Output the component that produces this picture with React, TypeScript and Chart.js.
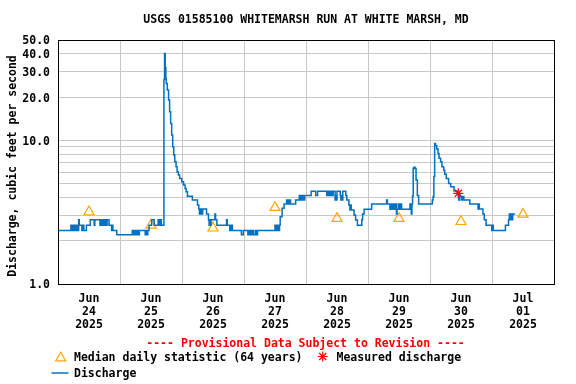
import React, { useEffect, useRef } from 'react';
import { Chart, registerables } from 'chart.js';

Chart.register(...registerables);

const TITLE = 'USGS 01585100 WHITEMARSH RUN AT WHITE MARSH, MD';
const Y_TITLE = 'Discharge, cubic feet per second';
const PROVISIONAL = '---- Provisional Data Subject to Revision ----';
const LEGEND_MEDIAN = 'Median daily statistic (64 years)';
const LEGEND_MEASURED = 'Measured discharge';
const LEGEND_DISCHARGE = 'Discharge';

// x axis: hours since 2025-06-24 00:00
const DAY_LABELS = [
  ['Jun', '24', '2025'],
  ['Jun', '25', '2025'],
  ['Jun', '26', '2025'],
  ['Jun', '27', '2025'],
  ['Jun', '28', '2025'],
  ['Jun', '29', '2025'],
  ['Jun', '30', '2025'],
  ['Jul', '01', '2025'],
];
const X_TICK_HOURS = [0, 12, 24, 36, 48, 60, 72, 84, 96, 108, 120, 132, 144, 156, 168, 180, 192];
const Y_TICKS = [1, 2, 3, 4, 5, 6, 7, 8, 9, 10, 20, 30, 40, 50];
const Y_LABELED = [1, 10, 20, 30, 40, 50];

// Discharge (step series: value holds from each hour until the next)
const dischargeHours = [
  0, 5.0, 5.5, 5.75, 6.25, 6.5, 7.0, 7.25, 7.75,
  8.0, 8.25, 9.25, 9.75, 10.0, 11.0,
  12.5, 14.0, 14.25,
  16.25, 16.5, 16.75, 17.0, 17.25, 17.5, 17.75, 18.0, 18.25, 18.5, 18.75, 19.0,
  19.75, 20.75, 21.0, 21.25, 22.75,
  28.75, 29.0, 29.25, 29.5, 29.75, 30.0, 30.25, 30.5, 30.75, 31.0, 31.5,
  33.75, 34.0, 34.5, 34.75,
  35.25, 36.25, 37.25,
  38.75, 39.0, 39.25, 39.5, 39.75, 40.0,
  41.0, 41.25, 41.5, 41.75, 41.9, 42.3, 42.8, 43.2, 43.6, 44.0, 44.4, 44.8, 45.2, 45.7, 46.1, 46.6, 47.1, 47.9,
  48.6, 49.2, 49.6, 50.1, 52.0, 54.0,
  54.5, 54.75, 55.0, 55.25, 55.5, 55.75, 56.0,
  57.5, 58.25, 58.5, 58.75, 59.0, 59.25,
  60.75, 61.0, 61.5,
  65.25, 65.5, 66.5, 66.75, 67.0, 67.25, 67.5,
  71.0, 71.75,
  73.5, 74.0, 74.25, 74.75, 75.0, 75.5, 75.75, 76.5, 76.75, 77.25,
  84.0, 84.25, 84.75, 85.0, 85.25, 85.5, 85.75,
  86.0, 86.75, 87.5,
  88.5, 88.75, 89.0, 89.5, 89.75, 90.0,
  92.0, 93.4, 93.75, 94.0, 94.5, 94.75, 95.25, 95.5,
  98.0, 99.75, 100.5,
  104.0, 104.25, 104.75, 105.0, 105.5, 105.75, 106.25, 106.5,
  107.25, 107.5, 107.75, 108.0,
  109.25, 109.5, 109.75, 110.0, 110.25,
  111.4, 111.8, 112.6, 113.0, 113.25, 113.5, 114.6, 115.2, 115.9,
  117.6, 117.9, 118.5,
  121.4, 127.2, 127.5,
  128.5, 128.75, 129.25, 129.75, 130.25, 130.75, 131.0, 131.25, 131.75, 132.0, 132.5, 133.0,
  136.25, 136.5, 136.75, 137.0, 137.25, 137.5, 137.75, 138.25, 138.6, 139.1, 139.6,
  144.9, 145.2, 145.5, 145.8, 146.1, 146.6, 147.1, 147.5, 148.1, 148.6, 149.3, 149.7, 150.3, 151.2, 152.0, 153.3,
  154.6, 154.85, 155.1, 155.35, 155.6, 156.1, 156.35, 156.6, 156.85, 157.1,
  159.4, 162.6, 162.85, 163.1,
  164.5, 165.0, 165.7, 167.9, 168.15,
  168.5, 173.2, 174.4, 174.7, 175.25, 175.5, 175.75, 176.0, 176.9,
];
const dischargeCfs = [
  2.36, 2.56, 2.36, 2.56, 2.36, 2.56, 2.36, 2.56, 2.36,
  2.8, 2.56, 2.36, 2.56, 2.36, 2.56,
  2.8, 2.56, 2.8,
  2.56, 2.8, 2.56, 2.8, 2.56, 2.8, 2.56, 2.8, 2.56, 2.8, 2.56, 2.8,
  2.56, 2.36, 2.56, 2.36, 2.2,
  2.36, 2.2, 2.36, 2.2, 2.36, 2.2, 2.36, 2.2, 2.36, 2.2, 2.36,
  2.2, 2.36, 2.2, 2.36,
  2.56, 2.8, 2.56,
  2.8, 2.56, 2.8, 2.56, 2.8, 2.56,
  26.5, 40.3, 32.0, 27.0, 24.9, 22.4, 19.1, 15.8, 13.1, 10.9, 9.0, 7.9, 7.1, 6.55, 6.05, 5.74, 5.43, 5.15,
  4.89, 4.62, 4.39, 4.09, 3.84, 3.55,
  3.33, 3.07, 3.33, 3.07, 3.33, 3.07, 3.33,
  3.07, 2.8, 2.57, 2.8, 2.57, 2.8,
  3.07, 2.8, 2.57,
  2.8, 2.57, 2.36, 2.57, 2.36, 2.57, 2.36,
  2.2, 2.36,
  2.2, 2.36, 2.2, 2.36, 2.2, 2.36, 2.2, 2.36, 2.2, 2.36,
  2.56, 2.36, 2.56, 2.36, 2.56, 2.36, 2.56,
  2.94, 3.37, 3.6,
  3.84, 3.6, 3.84, 3.6, 3.84, 3.6,
  3.84, 4.14, 3.84, 4.14, 3.84, 4.14, 3.84, 4.14,
  4.42, 4.14, 4.42,
  4.14, 4.42, 4.14, 4.42, 4.14, 4.42, 4.14, 4.42,
  3.84, 4.14, 3.84, 4.42,
  4.14, 3.84, 4.14, 3.84, 4.42,
  4.14, 3.84, 3.55, 3.27, 3.55, 3.27, 3.02, 2.79, 2.57,
  2.8, 3.07, 3.31,
  3.6, 3.84, 3.6,
  3.31, 3.6, 3.31, 3.6, 3.31, 3.6, 3.07, 3.31, 3.6, 3.31, 3.6, 3.31,
  3.6, 3.31, 3.07, 3.6, 4.1, 6.38, 6.5, 6.38, 5.3, 4.14, 3.6,
  3.84, 4.06, 5.6, 9.53, 9.2, 8.7, 8.1, 7.5, 7.1, 6.55, 6.2, 5.8, 5.43, 5.0, 4.76, 4.45,
  4.2, 4.39, 3.84, 4.2, 4.06, 3.84, 4.06, 3.84, 4.06, 3.84,
  3.6, 3.33, 3.6, 3.33,
  3.07, 2.8, 2.57, 2.36, 2.57,
  2.36, 2.57, 2.8, 3.07, 2.8, 3.07, 2.8, 3.07, 3.07,
];

// Median daily statistic (64 years), plotted at noon of each day
const medianHours = [12, 36, 60, 84, 108, 132, 156, 180];
const medianCfs = [3.18, 2.57, 2.45, 3.41, 2.86, 2.86, 2.72, 3.06];

// Measured discharge
const measuredHours = [154.96];
const measuredCfs = [4.28];

const FONT_FAMILY = '"DejaVu Sans Mono", monospace';
const FONT_SIZE = 11.5;
const TEXT_DY = 1.5;
const BLUE = '#0070c0';
const ORANGE = '#ffa500';
const RED = '#ff0000';
const GRID = '#c8c8c8';
const TRANSPARENT = 'rgba(0,0,0,0)';

function drawTriangle(ctx: CanvasRenderingContext2D, x: number, y: number, r: number) {
  ctx.beginPath();
  ctx.moveTo(x, y - r);
  ctx.lineTo(x + 0.866 * r, y + 0.5 * r);
  ctx.lineTo(x - 0.866 * r, y + 0.5 * r);
  ctx.closePath();
  ctx.stroke();
}

function drawStar(ctx: CanvasRenderingContext2D, x: number, y: number, r: number) {
  ctx.beginPath();
  ctx.moveTo(x - r, y);
  ctx.lineTo(x + r, y);
  ctx.moveTo(x, y - r);
  ctx.lineTo(x, y + r);
  const d = r * 0.7071;
  ctx.moveTo(x - d, y - d);
  ctx.lineTo(x + d, y + d);
  ctx.moveTo(x - d, y + d);
  ctx.lineTo(x + d, y - d);
  ctx.stroke();
}

const decorPlugin = {
  id: 'decor',
  afterDraw(chart: any) {
    const ctx: CanvasRenderingContext2D = chart.ctx;
    const a = chart.chartArea;
    const yScale = chart.scales.y;
    ctx.save();
    // frame
    ctx.strokeStyle = '#000';
    ctx.lineWidth = 1;
    ctx.strokeRect(Math.round(a.left) + 0.5, Math.round(a.top) + 0.5, Math.round(a.right - a.left), Math.round(a.bottom - a.top));

    const font = `bold ${FONT_SIZE}px ${FONT_FAMILY}`;
    ctx.font = font;
    ctx.fillStyle = '#000';
    ctx.textBaseline = 'middle';

    // y tick labels
    ctx.textAlign = 'right';
    for (const v of Y_LABELED) {
      ctx.fillText(v.toFixed(1), a.left - 8, yScale.getPixelForValue(v) + TEXT_DY);
    }

    // title
    ctx.textAlign = 'center';
    ctx.fillText(TITLE, (a.left + a.right) / 2, 19 + TEXT_DY);

    // y title
    ctx.save();
    ctx.translate(12 + TEXT_DY, 166);
    ctx.rotate(-Math.PI / 2);
    ctx.textAlign = 'center';
    ctx.fillText(Y_TITLE, 0, 0);
    ctx.restore();

    // provisional
    ctx.fillStyle = RED;
    ctx.textAlign = 'center';
    ctx.fillText(PROVISIONAL, 305.5, 343 + TEXT_DY);

    // legend
    ctx.fillStyle = '#000';
    ctx.textAlign = 'left';
    ctx.fillText(LEGEND_MEDIAN, 74, 357 + TEXT_DY);
    ctx.fillText(LEGEND_MEASURED, 336.5, 357 + TEXT_DY);
    ctx.fillText(LEGEND_DISCHARGE, 74, 373 + TEXT_DY);

    ctx.strokeStyle = ORANGE;
    ctx.lineWidth = 1.2;
    drawTriangle(ctx, 60.7, 358, 5.8);

    ctx.strokeStyle = RED;
    ctx.lineWidth = 1.2;
    drawStar(ctx, 322.7, 356.5, 5);

    ctx.strokeStyle = BLUE;
    ctx.lineWidth = 1.5;
    ctx.beginPath();
    ctx.moveTo(51.5, 373);
    ctx.lineTo(68.5, 373);
    ctx.stroke();

    ctx.restore();
  },
};

export default function App() {
  const ref = useRef<HTMLCanvasElement>(null);

  useEffect(() => {
    const canvas = ref.current;
    if (!canvas) return;
    const tickFont = { family: FONT_FAMILY, size: FONT_SIZE, weight: 'bold' as const, lineHeight: 13 / FONT_SIZE };

    const chart = new Chart(canvas, {
      type: 'line',
      data: {
        datasets: [
          {
            label: 'Measured discharge',
            data: measuredHours.map((h, i) => ({ x: h, y: measuredCfs[i] })),
            showLine: false,
            pointStyle: 'star',
            pointRadius: 5,
            pointBorderColor: RED,
            pointBackgroundColor: RED,
            pointBorderWidth: 1.2,
            borderColor: RED,
          },
          {
            label: 'Discharge',
            data: dischargeHours.map((h, i) => ({ x: h, y: dischargeCfs[i] })),
            stepped: true,
            borderColor: BLUE,
            borderWidth: 1.5,
            pointRadius: 0,
            fill: false,
          },
          {
            label: 'Median daily statistic (64 years)',
            data: medianHours.map((h, i) => ({ x: h, y: medianCfs[i] })),
            showLine: false,
            pointStyle: 'triangle',
            pointRadius: 5.8,
            pointBorderColor: ORANGE,
            pointBackgroundColor: TRANSPARENT,
            pointBorderWidth: 1.2,
            borderColor: ORANGE,
          },
        ],
      },
      options: {
        responsive: false,
        animation: false,
        devicePixelRatio: 1,
        layout: { padding: { top: 40, right: 22, left: 0, bottom: 0 } },
        plugins: {
          legend: { display: false },
          tooltip: { enabled: false },
          title: { display: false },
        },
        scales: {
          x: {
            type: 'linear',
            min: 0,
            max: 192,
            afterBuildTicks: (s: any) => {
              s.ticks = X_TICK_HOURS.map((v) => ({ value: v }));
            },
            afterFit: (s: any) => {
              s.height = 100;
            },
            border: { display: false },
            grid: {
              drawTicks: false,
              lineWidth: 1,
              color: (c: any) => (c.tick && c.tick.value % 24 === 0 ? GRID : TRANSPARENT),
            },
            ticks: {
              autoSkip: false,
              maxRotation: 0,
              minRotation: 0,
              padding: 7 + TEXT_DY,
              color: '#000',
              font: tickFont,
              callback: (v: any) => {
                const n = Number(v);
                return n % 24 === 12 ? DAY_LABELS[(n - 12) / 24] : '';
              },
            },
          },
          y: {
            type: 'logarithmic',
            min: 1,
            max: 50,
            afterBuildTicks: (s: any) => {
              s.ticks = Y_TICKS.map((v) => ({ value: v }));
            },
            afterFit: (s: any) => {
              s.width = 58;
            },
            border: { display: false },
            grid: {
              drawTicks: false,
              lineWidth: 1,
              color: (c: any) => (c.tick && (c.tick.value === 1 || c.tick.value === 50) ? TRANSPARENT : GRID),
            },
            ticks: {
              autoSkip: false,
              padding: 8,
              color: TRANSPARENT,
              font: tickFont,
              callback: (v: any) => {
                const n = Number(v);
                return Y_LABELED.includes(n) ? n.toFixed(1) : '';
              },
            },
          },
        },
      },
      plugins: [decorPlugin],
    });

    return () => chart.destroy();
  }, []);

  return (
    <div style={{ position: 'absolute', left: 0, top: 0, width: 576, height: 384, background: '#fff' }}>
      <canvas ref={ref} width={576} height={384} style={{ display: 'block' }} />
    </div>
  );
}
